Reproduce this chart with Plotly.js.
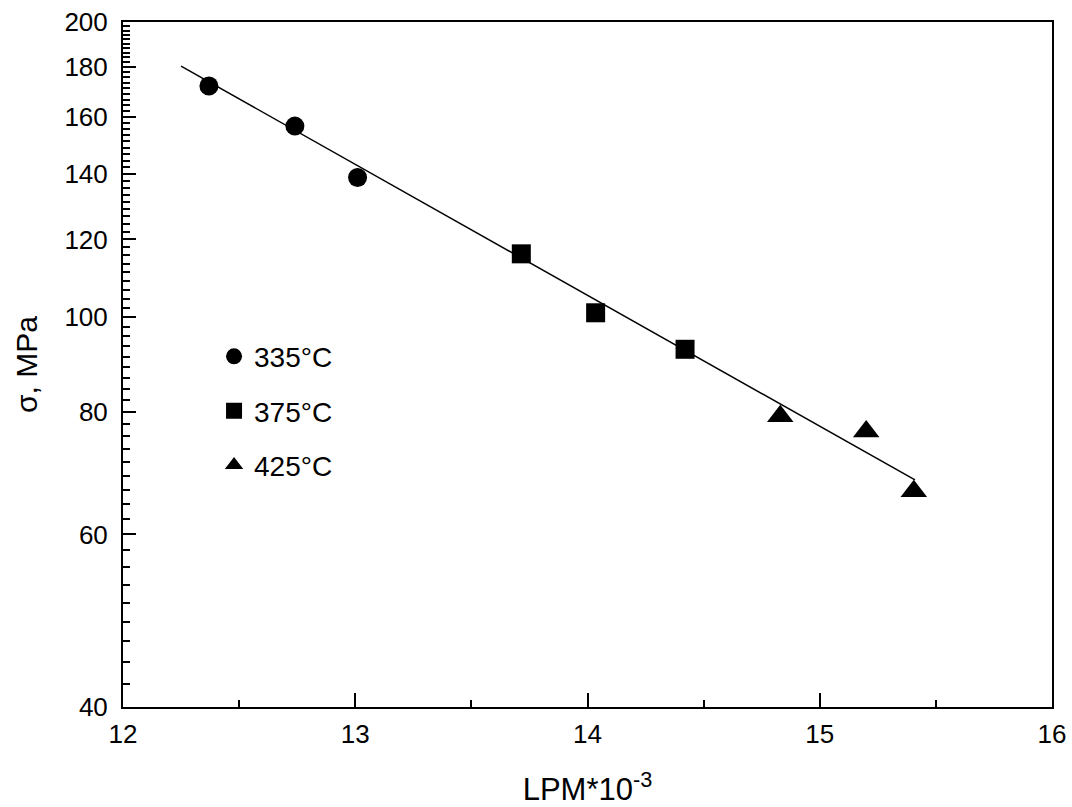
<!DOCTYPE html>
<html>
<head>
<meta charset="utf-8">
<script src="https://cdn.plot.ly/plotly-3.0.1.min.js"></script>
<style>html,body{margin:0;padding:0;background:#fff;}#chart{width:1072px;height:807px;}</style>
</head>
<body>
<div id="chart"></div>
<script>
// Data
const x335 = [12.37, 12.74, 13.01];
const y335 = [172.1, 156.6, 138.8];
const x375 = [13.715, 14.035, 14.42];
const y375 = [116.0, 101.0, 92.7];
const x425 = [14.83, 15.20, 15.405];
const y425 = [79.2, 76.4, 66.4];
const fitX = [12.25, 15.41];
const fitY = [180.3, 68.2];
const seriesNames = ['335°C', '375°C', '425°C'];
const xTickVals = [12, 13, 14, 15, 16];
const xMinorVals = [12.5, 13.5, 14.5, 15.5];
const yTickVals = [40, 60, 80, 100, 120, 140, 160, 180, 200];

// minor ticks on the log axis: 8 per major interval, 9 in the top interval
const yMinorVals = [];
for (let i = 0; i < yTickVals.length - 1; i++) {
  const a = yTickVals[i], b = yTickVals[i + 1];
  const n = (i === yTickVals.length - 2) ? 10 : 9;
  for (let k = 1; k < n; k++) yMinorVals.push(a + (b - a) * k / n);
}

const FONT = 'Liberation Sans, Arial, sans-serif';
const mk = (sym, size) => ({symbol: sym, size: size, color: '#000', line: {width: 0}});

const traces = [
  {x: fitX, y: fitY, mode: 'lines', line: {color: '#000', width: 1.5}, showlegend: false, hoverinfo: 'skip'},
  {x: x335, y: y335, mode: 'markers', name: seriesNames[0], legendgroup: 'a', marker: mk('circle', 19)},
  {x: x375, y: y375, mode: 'markers', name: seriesNames[1], legendgroup: 'b', marker: mk('square', 19)},
  {x: x425, y: y425, mode: 'markers', name: seriesNames[2], legendgroup: 'c', marker: mk('triangle-up', 23)}
];

const layout = {
  width: 1072, height: 807,
  margin: {l: 123, r: 20, t: 22, b: 100},
  paper_bgcolor: '#fff', plot_bgcolor: '#fff',
  font: {family: FONT, size: 26, color: '#000'},
  showlegend: true,
  legend: {x: 0.098, y: 0.548, xanchor: 'left', yanchor: 'top', bgcolor: 'rgba(0,0,0,0)',
           font: {family: FONT, size: 28, color: '#000'}, traceorder: 'grouped', tracegroupgap: 15},
  xaxis: {
    range: [12, 16], tickmode: 'array', tickvals: xTickVals, ticktext: xTickVals.map(String),
    ticks: 'inside', ticklen: 14, tickwidth: 2, tickcolor: '#000',
    minor: {tickmode: 'array', tickvals: xMinorVals, ticks: 'inside', ticklen: 7, tickwidth: 2, tickcolor: '#000', showgrid: false},
    showline: true, linewidth: 2, linecolor: '#000', mirror: true, showgrid: false, zeroline: false,
    tickfont: {family: FONT, size: 26, color: '#000'},
    ticklabelstandoff: 3,
    title: {text: 'LPM*10<sup>-3</sup>', font: {family: FONT, size: 31, color: '#000'}, standoff: 33}
  },
  yaxis: {
    type: 'log', range: [Math.log10(40), Math.log10(200)],
    tickmode: 'array', tickvals: yTickVals, ticktext: yTickVals.map(String),
    ticks: 'inside', ticklen: 13, tickwidth: 2, tickcolor: '#000',
    minor: {tickmode: 'array', tickvals: yMinorVals, ticks: 'inside', ticklen: 7, tickwidth: 2, tickcolor: '#000', showgrid: false},
    showline: true, linewidth: 2, linecolor: '#000', mirror: true, showgrid: false, zeroline: false,
    tickfont: {family: FONT, size: 26, color: '#000'},
    ticklabelstandoff: 8,
    title: {text: 'σ, MPa', font: {family: FONT, size: 30, color: '#000'}, standoff: 18}
  }
};

Plotly.newPlot('chart', traces, layout, {displayModeBar: false, staticPlot: true});
</script>
</body>
</html>
